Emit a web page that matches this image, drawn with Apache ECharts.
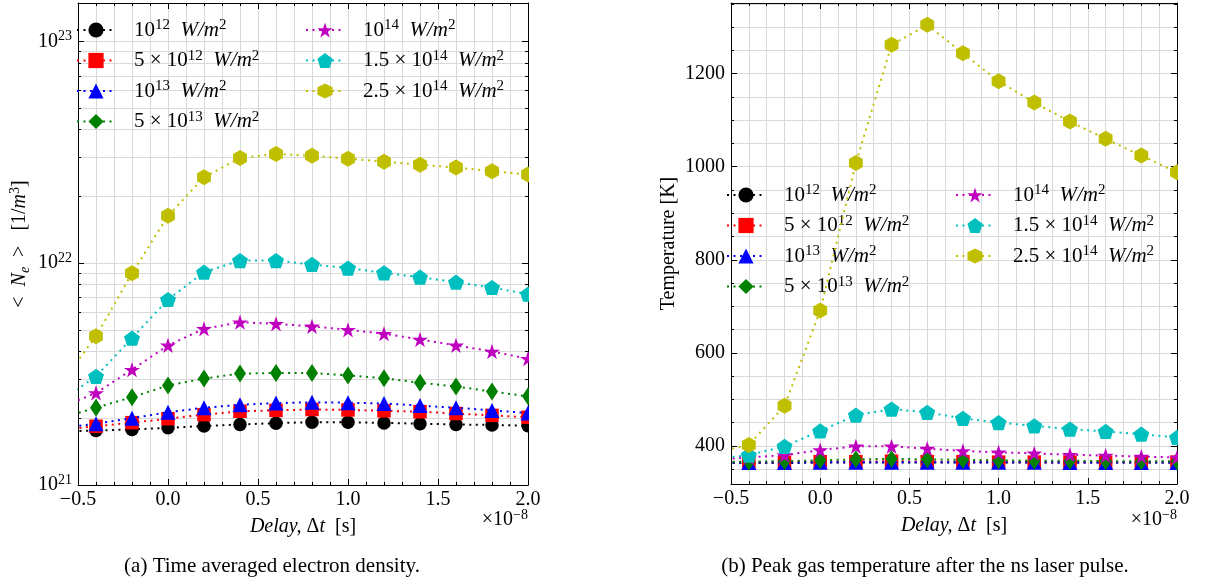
<!DOCTYPE html>
<html><head><meta charset="utf-8">
<script src="https://cdn.jsdelivr.net/npm/echarts@6/dist/echarts.min.js"></script>
<style>html,body{margin:0;padding:0;background:#fff}#c{width:1206px;height:582px}</style>
</head><body><div id="c"></div>
<script>
// ---------------- data ----------------
const delays = [-0.6, -0.4, -0.2, 0.0, 0.2, 0.4, 0.6, 0.8, 1.0, 1.2, 1.4, 1.6, 1.8, 2.0]; // x 1e-8 s
const intensities = ['1e12', '5e12', '1e13', '5e13', '1e14', '1.5e14', '2.5e14'];

// (a) time averaged electron density [1/m^3]
const ne_1e12  = [1.74e21, 1.76e21, 1.78e21, 1.81e21, 1.845e21, 1.875e21, 1.90e21, 1.92e21, 1.92e21, 1.905e21, 1.89e21, 1.875e21, 1.865e21, 1.85e21];
const ne_5e12  = [1.77e21, 1.84e21, 1.91e21, 1.99e21, 2.075e21, 2.15e21, 2.17e21, 2.19e21, 2.18e21, 2.16e21, 2.14e21, 2.10e21, 2.06e21, 2.02e21];
const ne_1e13  = [1.80e21, 1.89e21, 2.00e21, 2.13e21, 2.23e21, 2.30e21, 2.34e21, 2.36e21, 2.35e21, 2.33e21, 2.28e21, 2.23e21, 2.17e21, 2.11e21];
const ne_5e13  = [2.00e21, 2.23e21, 2.49e21, 2.81e21, 3.02e21, 3.18e21, 3.20e21, 3.20e21, 3.12e21, 3.03e21, 2.89e21, 2.78e21, 2.64e21, 2.51e21];
const ne_1e14  = [2.23e21, 2.60e21, 3.31e21, 4.26e21, 5.06e21, 5.42e21, 5.33e21, 5.19e21, 5.01e21, 4.81e21, 4.53e21, 4.26e21, 4.00e21, 3.71e21];
const ne_15e14 = [2.39e21, 3.09e21, 4.59e21, 6.86e21, 9.11e21, 1.028e22, 1.028e22, 9.87e21, 9.50e21, 9.05e21, 8.65e21, 8.21e21, 7.77e21, 7.25e21];
const ne_25e14 = [2.84e21, 4.68e21, 9.00e21, 1.635e22, 2.44e22, 2.98e22, 3.11e22, 3.05e22, 2.96e22, 2.87e22, 2.78e22, 2.70e22, 2.60e22, 2.51e22];

// (b) peak gas temperature [K]
const T_1e12  = [363, 363, 363, 364, 364, 364, 364, 364, 364, 364, 364, 364, 364, 364];
const T_5e12  = [364, 365, 365, 366, 366, 367, 366, 366, 365, 365, 365, 365, 365, 365];
const T_1e13  = [363, 364, 364, 365, 365, 365, 365, 365, 365, 365, 364, 364, 364, 364];
const T_5e13  = [365, 366, 367, 369, 371, 372, 371, 370, 369, 368, 368, 367, 367, 367];
const T_1e14  = [370, 375, 380, 391, 399, 399, 394, 389, 386, 384, 381, 379, 377, 375];
const T_15e14 = [372, 380, 399, 432, 466, 479, 472, 459, 450, 443, 436, 431, 425, 418];
const T_25e14 = [385, 402, 486, 691, 1008, 1262, 1305, 1244, 1184, 1138, 1097, 1060, 1024, 988];

// axis ticks
const xRange = [-0.5, 2.0];
const densityRange = [1e21, 1.49e23];
const densityMajorTicks = [1e21, 1e22, 1e23];
const densityMinorTicks = [2e21, 3e21, 4e21, 5e21, 6e21, 7e21, 8e21, 9e21, 2e22, 3e22, 4e22, 5e22, 6e22, 7e22, 8e22, 9e22];
const tempRange = [318, 1352];
const tempMajorTicks = [400, 600, 800, 1000, 1200];
const tempMinorTicks = [350, 450, 500, 550, 650, 700, 750, 850, 900, 950, 1050, 1100, 1150, 1250, 1300, 1350];

// ---------------- style ----------------
const F = 'Liberation Serif';
const GRID = '#d9d9d9';
const RICH = {
  r:   {fontFamily: F, fontSize: 20, color: '#000', lineHeight: 24, verticalAlign: 'middle'},
  i:   {fontFamily: F, fontSize: 20, fontStyle: 'italic', color: '#000', lineHeight: 24, verticalAlign: 'middle'},
  sup: {fontFamily: F, fontSize: 14, color: '#000', lineHeight: 13, verticalAlign: 'top'},
  sub: {fontFamily: F, fontSize: 14, fontStyle: 'italic', color: '#000', lineHeight: 13, verticalAlign: 'bottom'}
};
const LRICH = {
  r:   {fontFamily: F, fontSize: 21, color: '#000', lineHeight: 24, verticalAlign: 'middle'},
  i:   {fontFamily: F, fontSize: 21, fontStyle: 'italic', color: '#000', lineHeight: 24, verticalAlign: 'middle'},
  sup: {fontFamily: F, fontSize: 15, color: '#000', lineHeight: 13, verticalAlign: 'top'}
};
const LEG = {
  '1e12':   '{r|10}{sup|12}{r|  }{i|W/m}{sup|2}',
  '5e12':   '{r|5 × 10}{sup|12}{r|  }{i|W/m}{sup|2}',
  '1e13':   '{r|10}{sup|13}{r|  }{i|W/m}{sup|2}',
  '5e13':   '{r|5 × 10}{sup|13}{r|  }{i|W/m}{sup|2}',
  '1e14':   '{r|10}{sup|14}{r|  }{i|W/m}{sup|2}',
  '1.5e14': '{r|1.5 × 10}{sup|14}{r|  }{i|W/m}{sup|2}',
  '2.5e14': '{r|2.5 × 10}{sup|14}{r|  }{i|W/m}{sup|2}'
};
function polyPath(n, rOuter, rInner) {
  const pts = [];
  const count = rInner ? n * 2 : n;
  for (let k = 0; k < count; k++) {
    const a = -Math.PI / 2 + k * 2 * Math.PI / count;
    const r = rInner ? (k % 2 ? rInner : rOuter) : rOuter;
    pts.push((50 + r * Math.cos(a)).toFixed(2) + ' ' + (50 + r * Math.sin(a)).toFixed(2));
  }
  return 'path://M' + pts.join(' L') + ' Z';
}
const STAR = polyPath(5, 50, 19.1);
const PENT = polyPath(5, 50, 0);
const HEX = polyPath(6, 50, 0);
const STY = [
  {color: '#000000', symbol: 'circle', size: 13.5},
  {color: '#ff0000', symbol: 'rect', size: 13.5},
  {color: '#0000ff', symbol: 'triangle', size: [15, 15]},
  {color: '#008000', symbol: 'diamond', size: [12, 18]},
  {color: '#bf00bf', symbol: STAR, size: 16},
  {color: '#00bfbf', symbol: PENT, size: 16},
  {color: '#bfbf00', symbol: HEX, size: 16}
];

function mkSeries(values, xi, yi) {
  return values.map((vals, k) => ({
    type: 'line', name: intensities[k], xAxisIndex: xi, yAxisIndex: yi,
    data: delays.map((d, j) => [d, vals[j]]),
    symbol: STY[k].symbol, symbolSize: STY[k].size, symbolKeepAspect: true, showAllSymbol: true,
    itemStyle: {color: STY[k].color},
    lineStyle: {color: STY[k].color, width: 2, type: [2, 4.5], cap: 'butt'},
    emphasis: {disabled: true}, clip: true, z: 2 + k
  }));
}

const fmtX = v => (v < -1e-9 ? '\u2212' : '') + Math.abs(v).toFixed(1);
const tickStyle = {color: '#000', width: 1};
function xAxes(g) {
  const base = {type: 'value', gridIndex: g, min: xRange[0], max: xRange[1], interval: 0.5};
  return [
    Object.assign({}, base, {
      position: 'bottom',
      axisLine: {show: true, onZero: false, lineStyle: {color: '#000', width: 1}},
      axisTick: {show: true, inside: true, length: 6, lineStyle: tickStyle},
      minorTick: {show: true, splitNumber: 5, length: 3, lineStyle: tickStyle},
      axisLabel: {fontFamily: F, fontSize: 20, color: '#000', margin: 5, formatter: fmtX},
      splitLine: {show: true, lineStyle: {color: GRID, width: 1}},
      minorSplitLine: {show: true, lineStyle: {color: GRID, width: 1}},
      name: '{i|Delay,}{r| Δ}{i|t}{r|  [s]}', nameLocation: 'middle', nameGap: 30,
      nameTextStyle: {rich: RICH}
    }),
    Object.assign({}, base, {
      position: 'top',
      axisLine: {show: true, onZero: false, lineStyle: {color: '#000', width: 1}},
      axisTick: {show: true, inside: true, length: 6, lineStyle: tickStyle},
      minorTick: {show: true, splitNumber: 5, length: 3, lineStyle: tickStyle},
      axisLabel: {show: false}, splitLine: {show: false}, minorSplitLine: {show: false}
    })
  ];
}
function yAxes(g, type, range, majors, minors, labelFmt, name, nameGap) {
  const base = {type: type, gridIndex: g, min: range[0], max: range[1]};
  const noLine = {show: false, onZero: false};
  return [
    Object.assign({}, base, {
      position: 'left',
      axisLine: {show: true, onZero: false, lineStyle: {color: '#000', width: 1}},
      axisTick: {show: true, inside: true, length: 6, lineStyle: tickStyle, customValues: majors},
      axisLabel: {show: true, customValues: majors, formatter: labelFmt, rich: RICH, fontFamily: F, fontSize: 20, color: '#000', margin: 6},
      splitLine: {show: true, lineStyle: {color: GRID, width: 1}},
      minorTick: {show: false}, minorSplitLine: {show: false},
      name: name, nameLocation: 'middle', nameGap: nameGap, nameTextStyle: {rich: RICH, fontFamily: F, fontSize: 20, color: '#000'}
    }),
    Object.assign({}, base, {
      position: 'left', axisLine: noLine,
      axisTick: {show: true, inside: true, length: 3, lineStyle: tickStyle, customValues: minors},
      axisLabel: {show: false, customValues: minors},
      splitLine: {show: true, lineStyle: {color: GRID, width: 1}}
    }),
    Object.assign({}, base, {
      position: 'right',
      axisLine: {show: true, onZero: false, lineStyle: {color: '#000', width: 1}},
      axisTick: {show: true, inside: true, length: 6, lineStyle: tickStyle, customValues: majors},
      axisLabel: {show: false, customValues: majors}, splitLine: {show: false}
    }),
    Object.assign({}, base, {
      position: 'right', axisLine: noLine,
      axisTick: {show: true, inside: true, length: 3, lineStyle: tickStyle, customValues: minors},
      axisLabel: {show: false, customValues: minors}, splitLine: {show: false}
    })
  ];
}

function legend(names, left, top) {
  return {
    data: names, left: left, top: top, orient: 'vertical', padding: 0,
    itemWidth: 38, itemHeight: 19, itemGap: 8, selectedMode: false,
    formatter: n => LEG[n],
    textStyle: {fontFamily: F, fontSize: 21, color: '#000', rich: LRICH, padding: [0, 0, 0, 14]}
  };
}

const chart = echarts.init(document.getElementById('c'), null, {renderer: 'canvas'});
chart.setOption({
  animation: false,
  backgroundColor: '#fff',
  grid: [
    {left: 78, top: 3, width: 450, height: 482, outerBoundsMode: 'none'},
    {left: 731, top: 3, width: 446, height: 481, outerBoundsMode: 'none'}
  ],
  xAxis: [].concat(xAxes(0), xAxes(1)),
  yAxis: [].concat(
    yAxes(0, 'log', densityRange, densityMajorTicks, densityMinorTicks,
      v => '{r|10}{sup|' + Math.round(Math.log10(v)) + '}',
      '{r|<  }{i|N}{sub|e}{r|  >   [1/}{i|m}{sup|3}{r|]}', 46),
    yAxes(1, 'value', tempRange, tempMajorTicks, tempMinorTicks,
      v => String(v), 'Temperature [K]', 52)
  ),
  legend: [
    legend(intensities.slice(0, 4), 76, 18),
    legend(intensities.slice(4), 305, 18),
    legend(intensities.slice(0, 4), 726, 183),
    legend(intensities.slice(4), 955, 183)
  ],
  series: [].concat(
    mkSeries([ne_1e12, ne_5e12, ne_1e13, ne_5e13, ne_1e14, ne_15e14, ne_25e14], 0, 0),
    mkSeries([T_1e12, T_5e12, T_1e13, T_5e13, T_1e14, T_15e14, T_25e14], 2, 4)
  ),
  graphic: [
    // masks: markers are clipped at the right edge of each plot area, as in the reference
    {type: 'rect', z: 100, shape: {x: 529, y: 0, width: 24, height: 486}, style: {fill: '#fff'}},
    {type: 'rect', z: 100, shape: {x: 1178, y: 0, width: 28, height: 486}, style: {fill: '#fff'}},
    {type: 'text', z: 101, x: 528, y: 520, style: {text: '{r|×10}{sup|−8}', rich: RICH, align: 'right', verticalAlign: 'middle'}},
    {type: 'text', z: 101, x: 1177, y: 520, style: {text: '{r|×10}{sup|−8}', rich: RICH, align: 'right', verticalAlign: 'middle'}},
    {type: 'text', x: 272, y: 566, style: {text: '(a) Time averaged electron density.', fontFamily: F, fontSize: 21, fill: '#000', align: 'center', verticalAlign: 'middle'}},
    {type: 'text', x: 925, y: 566, style: {text: '(b) Peak gas temperature after the ns laser pulse.', fontFamily: F, fontSize: 21, fill: '#000', align: 'center', verticalAlign: 'middle'}}
  ]
});
</script>
</body></html>
